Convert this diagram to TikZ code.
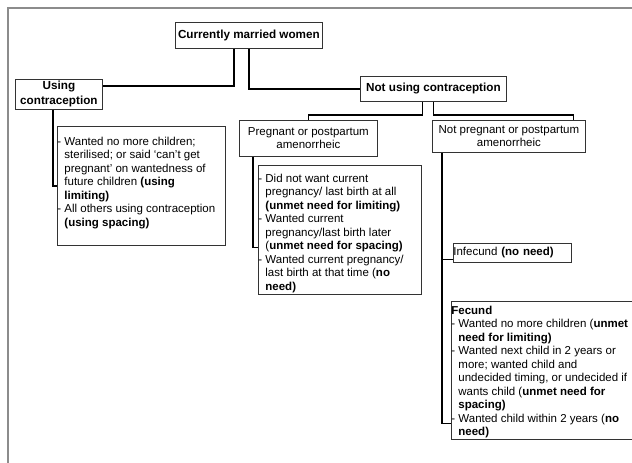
\documentclass[tikz,border=0pt]{standalone}
\usepackage{fontspec}
\setmainfont{Liberation Sans}

\newcommand{\dsh}{-~}
\newcommand{\ind}{\phantom{-~}}
\newcommand{\boxlines}[4]{\parbox[c][#2][t]{#1}{\raggedright\rule{0pt}{#3}#4}}

\begin{document}
\begin{tikzpicture}[x=1pt,y=-1pt,
    box/.style={draw=black!80, line width=0.8pt, anchor=north west, inner sep=0pt},
    head/.style={box, align=center, font=\bfseries\fontsize{11.7}{15}\selectfont},
    plain/.style={box, align=center, font=\fontsize{11.5}{13}\selectfont},
    list/.style={box, font=\fontsize{11.5}{13.5}\selectfont},
    link/.style={line width=1.3pt},
    frame/.style={draw=black!45, line width=1.8pt}]

    \useasboundingbox (0,0) rectangle (632,463);
    \clip (0,0) rectangle (632,463);

    \draw [frame] (7.7,470) -- (7.7,7.7) -- (640,7.7);

    % top levels
    \node [head, minimum width=147pt, minimum height=26pt] (married) at (175,22) {Currently married women};
    \node [head, minimum width=87pt, minimum height=30pt] (using) at (15,79) {Using\\contraception};
    \node [head, minimum width=146pt, minimum height=25pt] (notusing) at (360,76) {Not using contraception};
    \node [plain, minimum width=138pt, minimum height=36pt] (pregnant) at (239,120) {Pregnant or postpartum\\amenorrheic};
    \node [plain, minimum width=153pt, minimum height=32pt] (notpregnant) at (432,120) {Not pregnant or postpartum\\amenorrheic};

    % lists
    \node [list] (usinglist) at (57,126) {\boxlines{168pt}{119pt}{19pt}{%
        \dsh Wanted no more children;\\
        \ind sterilised; or said `can't get\\
        \ind pregnant' on wantedness of\\
        \ind future children \textbf{(using}\\
        \ind \textbf{limiting)}\\
        \dsh All others using contraception\\
        \ind \textbf{(using spacing)}}};
    \node [list] (pregnantlist) at (258,165) {\boxlines{163pt}{129pt}{17pt}{%
        \dsh Did not want current\\
        \ind pregnancy/ last birth at all\\
        \ind \textbf{(unmet need for limiting)}\\
        \dsh Wanted current\\
        \ind pregnancy/last birth later\\
        \ind (\textbf{unmet need for spacing)}\\
        \dsh Wanted current pregnancy/\\
        \ind last birth at that time (\textbf{no}\\
        \ind \textbf{need)}}};
    \node [list, text width=118pt, minimum height=19pt, align=left] (infecund) at (453,243) {Infecund \textbf{(no need)}};
    \node [list] (fecund) at (451,301) {\boxlines{183pt}{138pt}{13pt}{%
        \textbf{Fecund}\\
        \dsh Wanted no more children (\textbf{unmet}\\
        \ind \textbf{need for limiting)}\\
        \dsh Wanted next child in 2 years or\\
        \ind more; wanted child and\\
        \ind undecided timing, or undecided if\\
        \ind wants child (\textbf{unmet need for}\\
        \ind \textbf{spacing)}\\
        \dsh Wanted child within 2 years (\textbf{no}\\
        \ind \textbf{need)}}};

    % connectors
    \draw [link] ([xshift=-15pt]married.south) |- ([yshift=-7pt]using.north east);
    \draw [link] (married.south) |- (notusing.west);
    \draw [link] ([xshift=-6pt]using.south) |- (usinglist.west);
    \draw [link] ([xshift=-11pt]notusing.south) |- ([yshift=5pt]pregnant.north) -- (pregnant.north);
    \draw [link] (notusing.south) |- ([xshift=-12pt,yshift=5pt]notpregnant.north east) -- ([xshift=-12pt]notpregnant.north east);
    \draw [link] ([xshift=14pt]pregnant.south west) |- ([yshift=47pt]pregnantlist.south west);
    \draw [link] ([xshift=10pt]notpregnant.south west) |- ([yshift=3pt]infecund.south west);
    \draw [link] ([xshift=10pt]notpregnant.south west) |- ([yshift=16pt]fecund.south west);

\end{tikzpicture}
\end{document}
